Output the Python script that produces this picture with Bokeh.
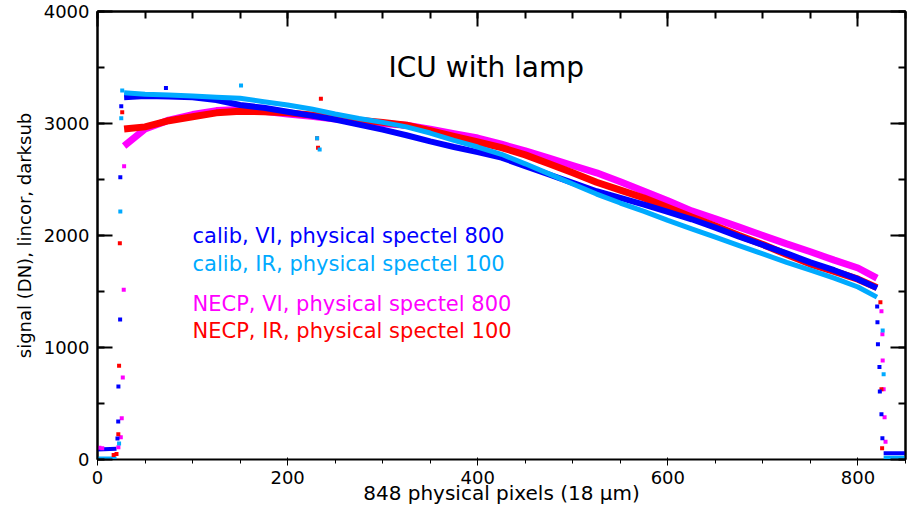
from bokeh.embed import file_html
from bokeh.models import (CustomJSTickFormatter, Label, LinearAxis, Range1d,
                          SingleIntervalTicker)
from bokeh.plotting import figure
from bokeh.resources import INLINE

FONT = "DejaVu Sans"

band_x = [28, 50, 75, 100, 125, 150, 175, 200, 225, 250, 275, 300, 325,
          350, 375, 400, 425, 450, 475, 500, 525, 550, 575, 600, 625, 650,
          675, 700, 725, 750, 775, 800, 820]

calib_vi_band = [3235, 3245, 3240, 3235, 3210, 3165, 3140, 3105, 3070, 3035,
                 2990, 2945, 2895, 2840, 2790, 2745, 2695, 2620, 2545, 2470,
                 2395, 2335, 2275, 2210, 2145, 2070, 1990, 1915, 1840, 1760,
                 1690, 1610, 1530]
calib_ir_band = [3275, 3262, 3255, 3245, 3235, 3225, 3195, 3165, 3130, 3085,
                 3045, 3010, 2970, 2915, 2850, 2790, 2725, 2640, 2550, 2460,
                 2370, 2290, 2215, 2135, 2060, 1985, 1910, 1835, 1760, 1690,
                 1620, 1540, 1450]
necp_vi_band = [2800, 2950, 3030, 3080, 3115, 3125, 3110, 3085, 3065, 3040,
                3020, 3000, 2985, 2950, 2910, 2870, 2815, 2755, 2690, 2625,
                2560, 2480, 2395, 2310, 2220, 2150, 2075, 2000, 1925, 1855,
                1780, 1710, 1620]
necp_ir_band = [2950, 2970, 3025, 3060, 3095, 3110, 3105, 3095, 3075, 3050,
                3030, 3010, 2985, 2935, 2885, 2835, 2785, 2720, 2640, 2560,
                2475, 2405, 2335, 2250, 2165, 2085, 2000, 1920, 1830, 1745,
                1680, 1610, 1535]

# dark level outside the slit
floor_left_x = [0, 20]
floor_right_x = [827, 850]
calib_vi_floor_left = [90, 95]
calib_vi_floor_right = [56, 56]
calib_ir_floor_left = [10, 10]
calib_ir_floor_right = [15, 15]

# lone samples on the slit edges and a few outliers
calib_vi_x = [21, 21.8, 22, 23.8, 24, 25, 72, 820.2, 820.5, 821, 822.6, 823,
              824.7, 825.7]
calib_vi_y = [188, 339, 652, 1250, 2521, 3155, 3318, 1366, 1226, 1030, 827,
              607, 405, 190]
calib_ir_x = [22.7, 24, 25, 26, 151, 231, 233.7, 826, 827]
calib_ir_y = [143, 2214, 3047, 3295, 3339, 2869, 2768, 1152, 762]
necp_vi_x = [2, 5, 22, 24.5, 25.5, 26.6, 27.6, 28, 824.7, 825.7, 826, 827,
             828, 829]
necp_vi_y = [105, 100, 110, 199, 369, 732, 1515, 2619, 1324, 1119, 884, 628,
             378, 158]
necp_ir_x = [17, 20, 21.9, 22.7, 23.5, 26, 231, 232, 235, 823.6, 824.7, 825.4]
necp_ir_y = [40, 50, 226, 836, 1931, 3101, 2869, 2783, 3220, 1404, 628, 101]

legend_labels = ["calib, VI, physical spectel 800",
                 "calib, IR, physical spectel 100",
                 "NECP, VI, physical spectel 800",
                 "NECP, IR, physical spectel 100"]
legend_y = [2000, 1750, 1390, 1150]

BLUE = "#0000ff"
CYAN = "#00aaff"
MAGENTA = "#ff00ff"
RED = "#ff0000"
legend_colors = [BLUE, CYAN, MAGENTA, RED]

p = figure(width=910, height=512, x_range=Range1d(0, 850),
           y_range=Range1d(0, 4000), output_backend="svg",
           toolbar_location=None, min_border_left=97, min_border_right=5,
           min_border_top=11, min_border_bottom=53)
p.xgrid.visible = False
p.ygrid.visible = False
p.outline_line_color = "black"
p.outline_line_width = 2

x_ticker = SingleIntervalTicker(interval=200, num_minor_ticks=4)
y_ticker = SingleIntervalTicker(interval=1000, num_minor_ticks=2)
p.xaxis.ticker = x_ticker
p.yaxis.ticker = y_ticker
p.xaxis.axis_label = "848 physical pixels (18 \u03bcm)"
p.yaxis.axis_label = "signal (DN), lincor, darksub"
p.xaxis.major_label_standoff = 5
p.xaxis.axis_label_standoff = -6
p.yaxis.major_label_standoff = 8
p.yaxis.axis_label_standoff = 6

for ax in [p.xaxis[0], p.yaxis[0]]:
    ax.major_label_text_font = FONT
    ax.major_label_text_font_size = "18px"
    ax.major_label_text_color = "black"
    ax.axis_label_text_font = FONT
    ax.axis_label_text_font_style = "normal"
    ax.axis_label_text_color = "black"
p.xaxis.axis_label_text_font_size = "20px"
p.yaxis.axis_label_text_font_size = "18px"

mirror_top = LinearAxis(ticker=x_ticker)
mirror_right = LinearAxis(ticker=y_ticker)
p.add_layout(mirror_top, "above")
p.add_layout(mirror_right, "right")

for ax in [p.xaxis[0], p.yaxis[0], mirror_top, mirror_right]:
    ax.axis_line_width = 2
    ax.major_tick_line_width = 2
    ax.minor_tick_line_width = 2
    ax.major_tick_in = 15
    ax.major_tick_out = 0
    ax.minor_tick_in = 7
    ax.minor_tick_out = 0

for ax in [mirror_top, mirror_right]:
    ax.formatter = CustomJSTickFormatter(code="return ''")
    ax.major_label_text_font_size = "1px"
    ax.major_label_standoff = 0

# bands
p.line(band_x, necp_vi_band, line_color=MAGENTA, line_width=7)
p.line(band_x, necp_ir_band, line_color=RED, line_width=7)
p.line(band_x, calib_vi_band, line_color=BLUE, line_width=6)
p.line(band_x, calib_ir_band, line_color=CYAN, line_width=5)

# dark floors
p.line(floor_left_x, calib_vi_floor_left, line_color=BLUE, line_width=4)
p.line(floor_right_x, calib_vi_floor_right, line_color=BLUE, line_width=4)
p.line(floor_left_x, calib_ir_floor_left, line_color=CYAN, line_width=4)
p.line(floor_right_x, calib_ir_floor_right, line_color=CYAN, line_width=4)

# edge samples
p.scatter(necp_vi_x, necp_vi_y, marker="square", size=4,
          fill_color=MAGENTA, line_color=None)
p.scatter(necp_ir_x, necp_ir_y, marker="square", size=4,
          fill_color=RED, line_color=None)
p.scatter(calib_vi_x, calib_vi_y, marker="square", size=4,
          fill_color=BLUE, line_color=None)
p.scatter(calib_ir_x, calib_ir_y, marker="square", size=4,
          fill_color=CYAN, line_color=None)

p.add_layout(Label(x=409, y=3500, text="ICU with lamp", text_align="center",
                   text_baseline="alphabetic", text_font=FONT,
                   text_font_size="28px", text_color="black"))

for txt, yy, col in zip(legend_labels, legend_y, legend_colors):
    p.add_layout(Label(x=100, y=yy, text=txt, text_baseline="alphabetic",
                       text_font=FONT, text_font_size="21px",
                       text_color=col))

open("out.html", "w").write(file_html(p, INLINE))
